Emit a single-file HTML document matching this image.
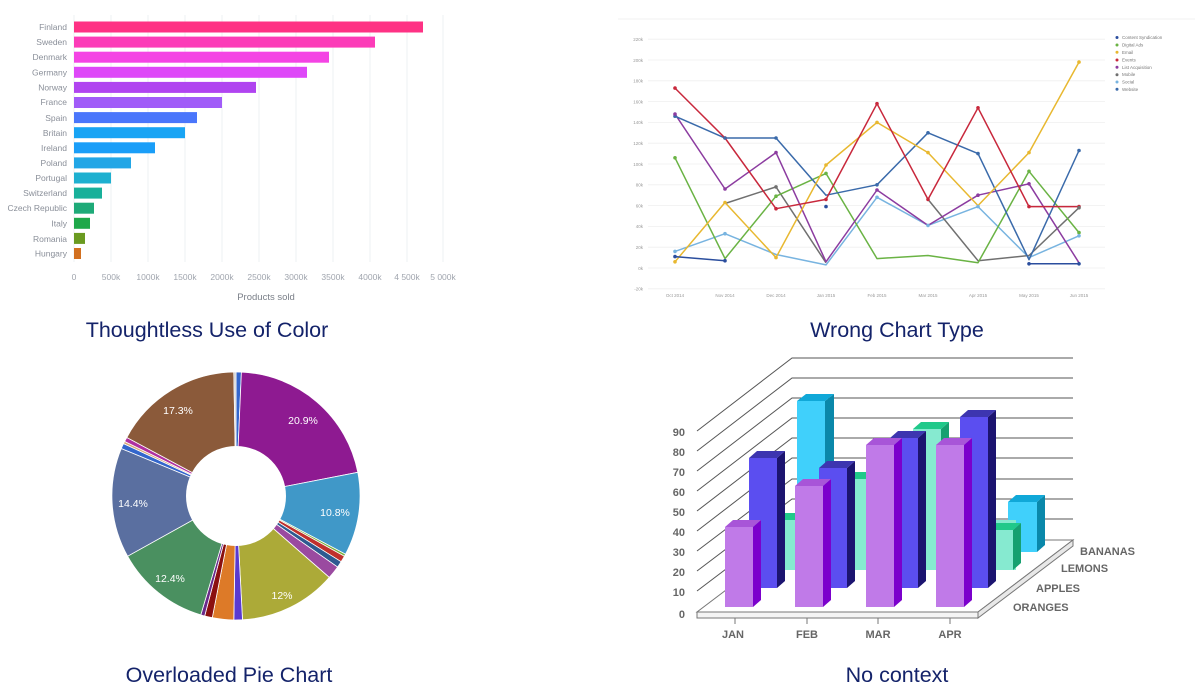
<!DOCTYPE html>
<html><head><meta charset="utf-8"><style>
html,body{margin:0;padding:0;background:#fff;width:1200px;height:700px;overflow:hidden}
text{font-family:"Liberation Sans",sans-serif}
</style></head><body>
<svg width="1200" height="700" viewBox="0 0 1200 700" xmlns="http://www.w3.org/2000/svg">
<g stroke="#eef0f3" stroke-width="1">
<line x1="74" y1="15" x2="74" y2="262"/><line x1="111" y1="15" x2="111" y2="262"/><line x1="148" y1="15" x2="148" y2="262"/><line x1="185" y1="15" x2="185" y2="262"/><line x1="222" y1="15" x2="222" y2="262"/><line x1="259" y1="15" x2="259" y2="262"/><line x1="296" y1="15" x2="296" y2="262"/><line x1="333" y1="15" x2="333" y2="262"/><line x1="370" y1="15" x2="370" y2="262"/><line x1="407" y1="15" x2="407" y2="262"/><line x1="443" y1="15" x2="443" y2="262"/>
</g>
<g>
<rect x="74" y="21.5" width="349" height="11" fill="#fe3284"/>
<rect x="74" y="36.6" width="301" height="11" fill="#fc3cb8"/>
<rect x="74" y="51.7" width="255" height="11" fill="#f444e4"/>
<rect x="74" y="66.8" width="233" height="11" fill="#de48f8"/>
<rect x="74" y="81.9" width="182" height="11" fill="#b044f0"/>
<rect x="74" y="97" width="148" height="11" fill="#a15cf8"/>
<rect x="74" y="112.1" width="123" height="11" fill="#4a76fb"/>
<rect x="74" y="127.2" width="111" height="11" fill="#18a4f4"/>
<rect x="74" y="142.3" width="81" height="11" fill="#1a9ef8"/>
<rect x="74" y="157.4" width="57" height="11" fill="#22a6e6"/>
<rect x="74" y="172.5" width="37" height="11" fill="#1eb0d0"/>
<rect x="74" y="187.6" width="28" height="11" fill="#18b09a"/>
<rect x="74" y="202.7" width="20" height="11" fill="#1eaa78"/>
<rect x="74" y="217.8" width="16" height="11" fill="#1ea84a"/>
<rect x="74" y="232.9" width="11" height="11" fill="#6a9a20"/>
<rect x="74" y="248" width="7" height="11" fill="#d27020"/>
</g>
<g font-size="8.5" fill="#8a8f99" text-anchor="end">
<text x="67" y="30">Finland</text><text x="67" y="45">Sweden</text><text x="67" y="60">Denmark</text><text x="67" y="75.5">Germany</text><text x="67" y="90.5">Norway</text><text x="67" y="105">France</text><text x="67" y="121">Spain</text><text x="67" y="136">Britain</text><text x="67" y="151">Ireland</text><text x="67" y="166">Poland</text><text x="67" y="181">Portugal</text><text x="67" y="196">Switzerland</text><text x="67" y="211">Czech Republic</text><text x="67" y="226.5">Italy</text><text x="67" y="242">Romania</text><text x="67" y="256.5">Hungary</text>
</g>
<g font-size="8.5" fill="#a0a5ae" text-anchor="middle">
<text x="74" y="280">0</text><text x="111" y="280">500k</text><text x="148" y="280">1000k</text><text x="185" y="280">1500k</text><text x="222" y="280">2000k</text><text x="259" y="280">2500k</text><text x="296" y="280">3000k</text><text x="333" y="280">3500k</text><text x="370" y="280">4000k</text><text x="407" y="280">4 500k</text><text x="443" y="280">5 000k</text>
</g>
<text x="266" y="300" font-size="9.5" fill="#7a7f88" text-anchor="middle">Products sold</text>

<line x1="618" y1="19" x2="1195" y2="19" stroke="#f2f2f2"/>
<g stroke="#efefef" stroke-width="0.8">
<line x1="648" y1="39.2" x2="1105" y2="39.2"/><line x1="648" y1="60" x2="1105" y2="60"/><line x1="648" y1="80.8" x2="1105" y2="80.8"/><line x1="648" y1="101.6" x2="1105" y2="101.6"/><line x1="648" y1="122.4" x2="1105" y2="122.4"/><line x1="648" y1="143.2" x2="1105" y2="143.2"/><line x1="648" y1="164" x2="1105" y2="164"/><line x1="648" y1="184.8" x2="1105" y2="184.8"/><line x1="648" y1="205.6" x2="1105" y2="205.6"/><line x1="648" y1="226.4" x2="1105" y2="226.4"/><line x1="648" y1="247.2" x2="1105" y2="247.2"/><line x1="648" y1="268" x2="1105" y2="268"/><line x1="648" y1="288.8" x2="1105" y2="288.8"/>
</g>
<g font-size="4.5" fill="#999" text-anchor="end">
<text x="643" y="41">220k</text><text x="643" y="62">200k</text><text x="643" y="82.5">180k</text><text x="643" y="103.5">160k</text><text x="643" y="124">140k</text><text x="643" y="145">120k</text><text x="643" y="166">100k</text><text x="643" y="186.5">80k</text><text x="643" y="207.5">60k</text><text x="643" y="228">40k</text><text x="643" y="249">20k</text><text x="643" y="270">0k</text><text x="643" y="290.5">-20k</text>
</g>
<g font-size="4.5" fill="#999" text-anchor="middle">
<text x="675" y="297">Oct 2014</text><text x="725" y="297">Nov 2014</text><text x="776" y="297">Dec 2014</text><text x="826" y="297">Jan 2015</text><text x="877" y="297">Feb 2015</text><text x="928" y="297">Mar 2015</text><text x="978" y="297">Apr 2015</text><text x="1029" y="297">May 2015</text><text x="1079" y="297">Jun 2015</text>
</g>
<g fill="none" stroke-width="1.5" stroke-linejoin="round">
<polyline stroke="#78b4e0" points="675,251.4 725,233.7 776,254.5 826,264.9 877,197.3 928,225.4 978,206.6 1029,257.6 1079,235.8"/>
<polyline stroke="#707070" points="725,203.5 776,186.9 826,262.8"/>
<polyline stroke="#707070" points="928,199.4 978,260.7 1029,255.5 1079,207.7"/>
<polyline stroke="#6ab344" points="675,157.8 725,258.6 776,196.2 826,173.4 877,258.6 928,255.5 978,262.8 1029,171.3 1079,232.6"/>
<polyline stroke="#8c3ca0" points="675,114.1 725,189 776,152.6 826,261.8 877,190 928,225.4 978,195.2 1029,183.8 1079,262.8"/>
<polyline stroke="#3a6aaa" points="675,116.2 725,138 776,138 826,195.2 877,184.8 928,132.8 978,153.6 1029,259.7 1079,150.5"/>
<polyline stroke="#e8b830" points="675,261.8 725,202.5 776,257.6 826,165 877,122.4 928,152.6 978,205.6 1029,152.6 1079,62.1"/>
<polyline stroke="#c8283c" points="675,88.1 725,138 776,208.7 826,199.4 877,103.7 928,199.4 978,107.8 1029,206.6 1079,206.6"/>
<polyline stroke="#2b4e9e" points="675,256.6 725,260.7"/>
<polyline stroke="#2b4e9e" points="1029,263.8 1079,263.8"/>
</g>
<g>
<circle cx="826" cy="206.6" r="1.8" fill="#2b4e9e"/>
<circle cx="675" cy="88.1" r="1.8" fill="#c8283c"/><circle cx="725" cy="138" r="1.8" fill="#c8283c"/><circle cx="877" cy="103.7" r="1.8" fill="#c8283c"/><circle cx="978" cy="107.8" r="1.8" fill="#c8283c"/><circle cx="1029" cy="206.6" r="1.8" fill="#c8283c"/><circle cx="1079" cy="206.6" r="1.8" fill="#c8283c"/><circle cx="776" cy="208.7" r="1.8" fill="#c8283c"/><circle cx="928" cy="199.4" r="1.8" fill="#c8283c"/><circle cx="826" cy="199.4" r="1.8" fill="#c8283c"/>
<circle cx="1079" cy="62.1" r="1.8" fill="#e8b830"/><circle cx="877" cy="122.4" r="1.8" fill="#e8b830"/><circle cx="826" cy="165" r="1.8" fill="#e8b830"/><circle cx="928" cy="152.6" r="1.8" fill="#e8b830"/><circle cx="1029" cy="152.6" r="1.8" fill="#e8b830"/><circle cx="725" cy="202.5" r="1.8" fill="#e8b830"/><circle cx="675" cy="261.8" r="1.8" fill="#e8b830"/><circle cx="776" cy="257.6" r="1.8" fill="#e8b830"/>
<circle cx="675" cy="116.2" r="1.8" fill="#3a6aaa"/><circle cx="725" cy="138" r="1.8" fill="#3a6aaa"/><circle cx="776" cy="138" r="1.8" fill="#3a6aaa"/><circle cx="928" cy="132.8" r="1.8" fill="#3a6aaa"/><circle cx="978" cy="153.6" r="1.8" fill="#3a6aaa"/><circle cx="1079" cy="150.5" r="1.8" fill="#3a6aaa"/><circle cx="877" cy="184.8" r="1.8" fill="#3a6aaa"/>
<circle cx="675" cy="157.8" r="1.8" fill="#6ab344"/><circle cx="1029" cy="171.3" r="1.8" fill="#6ab344"/><circle cx="826" cy="173.4" r="1.8" fill="#6ab344"/><circle cx="776" cy="196.2" r="1.8" fill="#6ab344"/><circle cx="1079" cy="232.6" r="1.8" fill="#6ab344"/>
<circle cx="675" cy="114.1" r="1.8" fill="#8c3ca0"/><circle cx="725" cy="189" r="1.8" fill="#8c3ca0"/><circle cx="776" cy="152.6" r="1.8" fill="#8c3ca0"/><circle cx="877" cy="190" r="1.8" fill="#8c3ca0"/><circle cx="978" cy="195.2" r="1.8" fill="#8c3ca0"/><circle cx="1029" cy="183.8" r="1.8" fill="#8c3ca0"/>
<circle cx="776" cy="186.9" r="1.8" fill="#707070"/><circle cx="1079" cy="207.7" r="1.8" fill="#707070"/>
<circle cx="725" cy="233.7" r="1.8" fill="#78b4e0"/><circle cx="877" cy="197.3" r="1.8" fill="#78b4e0"/><circle cx="928" cy="225.4" r="1.8" fill="#78b4e0"/><circle cx="978" cy="206.6" r="1.8" fill="#78b4e0"/><circle cx="1079" cy="235.8" r="1.8" fill="#78b4e0"/><circle cx="675" cy="251.4" r="1.8" fill="#78b4e0"/>
<circle cx="1029" cy="263.8" r="1.8" fill="#2b4e9e"/><circle cx="1079" cy="263.8" r="1.8" fill="#2b4e9e"/><circle cx="725" cy="260.7" r="1.8" fill="#2b4e9e"/><circle cx="675" cy="256.6" r="1.8" fill="#2b4e9e"/>
</g>
<g font-size="4.5" fill="#777">
<circle cx="1117" cy="37.5" r="1.5" fill="#2b4e9e"/><text x="1122" y="39">Content Syndication</text>
<circle cx="1117" cy="45" r="1.5" fill="#6ab344"/><text x="1122" y="46.5">Digital Ads</text>
<circle cx="1117" cy="52.3" r="1.5" fill="#e8b830"/><text x="1122" y="54">Email</text>
<circle cx="1117" cy="60" r="1.5" fill="#c8283c"/><text x="1122" y="61.5">Events</text>
<circle cx="1117" cy="67.3" r="1.5" fill="#8c3ca0"/><text x="1122" y="69">List Acquisition</text>
<circle cx="1117" cy="74.7" r="1.5" fill="#707070"/><text x="1122" y="76.2">Mobile</text>
<circle cx="1117" cy="82" r="1.5" fill="#78b4e0"/><text x="1122" y="83.5">Social</text>
<circle cx="1117" cy="89.3" r="1.5" fill="#3a6aaa"/><text x="1122" y="91">Website</text>
</g>

<g stroke="#fff" stroke-width="0.8">
<path d="M236,496 L236.0,372.0 A124,124 0 0,1 241.4,372.1 Z" fill="#3366cc"/>
<path d="M236,496 L241.4,372.1 A124,124 0 0,1 357.8,472.3 Z" fill="#8e1a91"/>
<path d="M236,496 L357.8,472.3 A124,124 0 0,1 345.5,554.2 Z" fill="#4098c8"/>
<path d="M236,496 L345.5,554.2 A124,124 0 0,1 344.4,556.3 Z" fill="#7ab040"/>
<path d="M236,496 L344.4,556.3 A124,124 0 0,1 341.1,561.7 Z" fill="#c0302c"/>
<path d="M236,496 L341.1,561.7 A124,124 0 0,1 337.6,567.1 Z" fill="#2e5a90"/>
<path d="M236,496 L337.6,567.1 A124,124 0 0,1 329.3,577.4 Z" fill="#9a4aa0"/>
<path d="M236,496 L329.3,577.4 A124,124 0 0,1 242.5,619.8 Z" fill="#acaa38"/>
<path d="M236,496 L242.5,619.8 A124,124 0 0,1 233.8,620.0 Z" fill="#5a3ad0"/>
<path d="M236,496 L233.8,620.0 A124,124 0 0,1 212.3,617.7 Z" fill="#dd7a28"/>
<path d="M236,496 L212.3,617.7 A124,124 0 0,1 204.7,616.0 Z" fill="#8b1010"/>
<path d="M236,496 L204.7,616.0 A124,124 0 0,1 200.8,614.9 Z" fill="#6a2a8a"/>
<path d="M236,496 L200.8,614.9 A124,124 0 0,1 127.6,556.2 Z" fill="#4a9060"/>
<path d="M236,496 L127.6,556.2 A124,124 0 0,1 121.3,448.5 Z" fill="#5a6fa0"/>
<path d="M236,496 L121.3,448.5 A124,124 0 0,1 123.5,443.6 Z" fill="#3366cc"/>
<path d="M236,496 L123.5,443.6 A124,124 0 0,1 124.6,441.4 Z" fill="#d8a878"/>
<path d="M236,496 L124.6,441.4 A124,124 0 0,1 126.8,437.5 Z" fill="#b030a0"/>
<path d="M236,496 L126.8,437.5 A124,124 0 0,1 233.8,372.0 Z" fill="#8b5a3a"/>
<path d="M236,496 L233.8,372.0 A124,124 0 0,1 236.0,372.0 Z" fill="#cccccc"/>
</g>
<circle cx="236" cy="496" r="50" fill="#fff"/>
<g font-size="10.5" fill="#fff" text-anchor="middle">
<text x="303" y="424">20.9%</text><text x="335" y="516">10.8%</text><text x="282" y="599">12%</text><text x="170" y="582">12.4%</text><text x="133" y="507">14.4%</text><text x="178" y="414">17.3%</text>
</g>

<g stroke="#555" stroke-width="1" fill="none">
<polyline points="697,431 792,358 1073,358"/>
<polyline points="697,451 792,378 1073,378"/>
<polyline points="697,471 792,398 1073,398"/>
<polyline points="697,491 792,418 1073,418"/>
<polyline points="697,511 792,438 1073,438"/>
<polyline points="697,531 792,458 1073,458"/>
<polyline points="697,551 792,479 1073,479"/>
<polyline points="697,571 792,499 1073,499"/>
<polyline points="697,591 792,519 1073,519"/>
</g>
<g font-size="11" fill="#666" font-weight="bold" text-anchor="end">
<text x="685" y="436">90</text><text x="685" y="456">80</text><text x="685" y="476">70</text><text x="685" y="496">60</text><text x="685" y="516">50</text><text x="685" y="536">40</text><text x="685" y="556">30</text><text x="685" y="576">20</text><text x="685" y="596">10</text><text x="685" y="618">0</text>
</g>
<polygon points="697,612 978,612 1073,540 792,540" fill="#fff" stroke="#777" stroke-width="1"/>
<polygon points="697,612 978,612 978,618 697,618" fill="#f4f4f4" stroke="#777" stroke-width="1"/>
<polygon points="978,612 1073,540 1073,546 978,618" fill="#e8e8e8" stroke="#777" stroke-width="1"/>
<g>
<rect x="797" y="401" width="28" height="151" fill="#40d0fb"/><polygon points="825,401 834,394 834,545 825,552" fill="#0a88aa"/><polygon points="797,401 806,394 834,394 825,401" fill="#10a8d8"/>
<rect x="1008" y="502" width="29" height="50" fill="#40d0fb"/><polygon points="1037,502 1045,495 1045,545 1037,552" fill="#0a88aa"/><polygon points="1008,502 1016,495 1045,495 1037,502" fill="#10a8d8"/>
</g>
<g>
<rect x="786" y="520" width="230" height="50" fill="#86ead0"/>
<rect x="772" y="520" width="28" height="50" fill="#86ead0"/><polygon points="772,520 780,513 808,513 800,520" fill="#20c98a"/>
<rect x="843" y="479" width="28" height="91" fill="#86ead0"/><polygon points="843,479 851,472 879,472 871,479" fill="#20c98a"/>
<rect x="913" y="429" width="28" height="141" fill="#86ead0"/><polygon points="941,429 949,422 949,563 941,570" fill="#16a070"/><polygon points="913,429 921,422 949,422 941,429" fill="#20c98a"/>
<rect x="985" y="530" width="28" height="40" fill="#86ead0"/><polygon points="1013,530 1021,523 1021,563 1013,570" fill="#16a070"/><polygon points="985,530 993,523 1021,523 1013,530" fill="#20c98a"/>
</g>
<g>
<rect x="749" y="458" width="28" height="130" fill="#5b4ef0"/><polygon points="777,458 785,451 785,581 777,588" fill="#1c1470"/><polygon points="749,458 757,451 785,451 777,458" fill="#3d35b0"/>
<rect x="819" y="468" width="28" height="120" fill="#5b4ef0"/><polygon points="847,468 855,461 855,581 847,588" fill="#1c1470"/><polygon points="819,468 827,461 855,461 847,468" fill="#3d35b0"/>
<rect x="890" y="438" width="28" height="150" fill="#5b4ef0"/><polygon points="918,438 926,431 926,581 918,588" fill="#1c1470"/><polygon points="890,438 898,431 926,431 918,438" fill="#3d35b0"/>
<rect x="960" y="417" width="28" height="171" fill="#5b4ef0"/><polygon points="988,417 996,410 996,581 988,588" fill="#1c1470"/><polygon points="960,417 968,410 996,410 988,417" fill="#3d35b0"/>
</g>
<g>
<rect x="725" y="527" width="28" height="80" fill="#c07ae8"/><polygon points="753,527 761,520 761,600 753,607" fill="#7b00cc"/><polygon points="725,527 733,520 761,520 753,527" fill="#a855d8"/>
<rect x="795" y="486" width="28" height="121" fill="#c07ae8"/><polygon points="823,486 831,479 831,600 823,607" fill="#7b00cc"/><polygon points="795,486 803,479 831,479 823,486" fill="#a855d8"/>
<rect x="866" y="445" width="28" height="162" fill="#c07ae8"/><polygon points="894,445 902,438 902,600 894,607" fill="#7b00cc"/><polygon points="866,445 874,438 902,438 894,445" fill="#a855d8"/>
<rect x="936" y="445" width="28" height="162" fill="#c07ae8"/><polygon points="964,445 972,438 972,600 964,607" fill="#7b00cc"/><polygon points="936,445 944,438 972,438 964,445" fill="#a855d8"/>
</g>
<g stroke="#777" stroke-width="1"><line x1="735" y1="618" x2="735" y2="624"/><line x1="807" y1="618" x2="807" y2="624"/><line x1="878" y1="618" x2="878" y2="624"/><line x1="950" y1="618" x2="950" y2="624"/></g>
<g font-size="11" fill="#666" font-weight="bold">
<text x="733" y="638" text-anchor="middle">JAN</text><text x="807" y="638" text-anchor="middle">FEB</text><text x="878" y="638" text-anchor="middle">MAR</text><text x="950" y="638" text-anchor="middle">APR</text>
<text x="1080" y="555">BANANAS</text><text x="1061" y="572">LEMONS</text><text x="1036" y="592">APPLES</text><text x="1013" y="611">ORANGES</text>
</g>

<g font-size="21.5" fill="#14236a" text-anchor="middle">
<text x="207" y="337">Thoughtless Use of Color</text>
<text x="897" y="337">Wrong Chart Type</text>
<text x="229" y="682">Overloaded Pie Chart</text>
<text x="897" y="682">No context</text>
</g>
</svg>
</body></html>
